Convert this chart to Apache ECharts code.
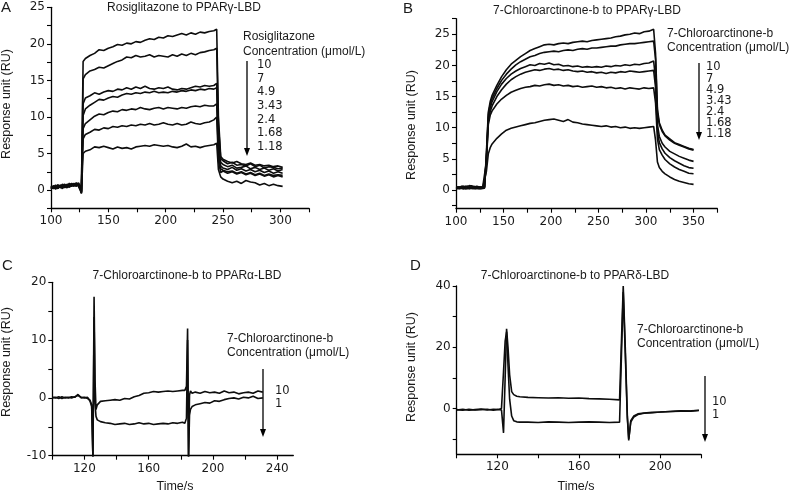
<!DOCTYPE html>
<html><head><meta charset="utf-8">
<script src="https://cdn.jsdelivr.net/npm/echarts@6/dist/echarts.min.js"></script>
<style>html,body{margin:0;padding:0;background:#fff}#c{width:791px;height:494px}</style>
</head><body><div id="c"></div><script>
// ---------- Panel A: Rosiglitazone to PPARγ-LBD ----------
const timeA = [100,102,104,106,108,110,112,114,116,118,120,122,124,125.5,
  126.5,128,
  130,134,138,142,146,150,154,158,162,166,170,174,178,182,186,190,194,198,202,206,210,214,218,222,226,230,234,238,242,
  244.5,246,248,
  250,254,258,262,266,270,274,278,282,286,290,294,298,302];
const concA = ['10','7','4.9','3.43','2.4','1.68','1.18'];
const a10 = [0.2,0.6,0.3,0.7,0.4,0.8,0.5,0.6,0.9,0.6,0.8,0.7,1.0,0.9, -0.3,17.6,
  18.0,18.4,18.7,19.2,19.1,19.4,19.6,19.9,19.8,20.1,20.0,20.3,20.2,20.5,20.7,20.6,20.9,20.8,21.1,21.0,21.2,21.4,21.2,21.5,21.3,21.6,21.5,21.7,21.8,
  22.0,10,4.6,
  4.2,3.9,3.7,3.9,3.6,3.5,3.7,3.4,3.5,3.3,3.4,3.2,3.3,3.1];
const a7 = [0.4,0.2,0.7,0.3,0.6,0.5,0.8,0.4,0.7,0.9,0.6,1.0,0.7,0.6, -0.2,15.2,
  15.8,16.3,16.5,16.8,16.7,17.0,17.3,17.6,17.8,18.2,18.1,18.4,18.2,18.3,18.5,18.2,18.4,18.3,18.2,18.5,18.3,18.6,18.4,18.7,18.5,18.8,18.9,19.1,19.2,
  19.4,9,4.3,
  4.0,3.6,3.8,3.4,3.5,3.3,3.6,3.2,3.4,3.0,3.2,3.1,2.9,3.0];
const a49 = [0.3,0.5,0.1,0.6,0.4,0.7,0.3,0.8,0.5,0.7,0.9,0.6,0.8,0.5, -0.5,11.8,
  12.6,12.9,13.3,13.1,13.4,13.6,13.5,13.8,13.7,14.0,13.8,14.1,13.9,14.2,13.9,13.8,14.0,13.9,14.1,13.8,13.7,13.9,13.8,14.0,14.2,14.1,14.3,14.2,14.3,
  14.6,7,3.8,
  3.5,3.2,3.4,3.0,3.1,3.3,2.9,3.1,2.8,3.0,2.7,2.9,2.6,2.8];
const a343 = [0.5,0.3,0.6,0.2,0.7,0.5,0.4,0.7,0.6,0.8,0.5,0.9,0.6,0.7, -0.3,10.2,
  11.1,11.6,12.0,12.4,12.3,12.6,12.8,12.7,13.0,13.2,13.1,13.3,13.2,13.4,13.3,13.5,13.3,13.4,13.3,13.5,13.4,13.6,13.5,13.7,13.6,13.8,13.7,13.9,13.8,
  14.0,6,3.3,
  3.0,2.8,3.1,2.7,2.9,2.6,2.8,2.5,2.7,2.4,2.6,2.3,2.5,2.3];
const a24 = [0.1,0.5,0.4,0.2,0.6,0.3,0.7,0.5,0.4,0.8,0.7,0.5,0.9,0.6, -0.4,8.4,
  9.1,9.6,10.1,10.4,10.3,10.6,10.8,10.7,11.0,10.9,11.1,11.0,11.3,11.1,11.0,11.2,11.3,11.1,11.3,11.2,11.1,11.3,11.2,11.4,11.5,11.4,11.6,11.5,11.5,
  11.8,5,2.9,
  2.7,2.5,2.6,2.3,2.5,2.2,2.4,2.1,2.3,2.0,2.2,2.0,2.1,2.0];
const a168 = [0.6,0.2,0.4,0.7,0.3,0.6,0.5,0.3,0.7,0.5,0.8,0.6,0.7,0.8, -0.2,7.0,
  7.6,7.9,8.3,8.2,8.5,8.4,8.7,8.6,8.8,8.7,8.9,8.8,9.0,8.9,9.1,8.9,9.0,9.2,9.0,8.9,9.1,8.9,9.0,9.3,9.1,9.0,9.2,9.3,9.6,
  10.0,4,2.4,
  2.6,2.3,2.5,2.2,2.4,2.1,2.3,2.0,2.2,1.9,2.1,1.8,2.0,1.8];
const a118 = [0.3,0.4,0.6,0.4,0.5,0.2,0.6,0.7,0.4,0.6,0.7,0.8,0.5,0.6, -0.4,5.0,
  5.3,5.5,5.9,5.8,6.0,5.8,5.6,5.9,5.7,5.8,5.6,5.9,6.0,6.1,6.0,6.2,6.1,6.0,6.1,5.9,5.8,6.0,6.3,5.9,6.0,5.8,6.0,6.1,6.2,
  6.4,2.8,1.8,
  1.5,1.2,1.0,1.2,0.9,1.3,1.1,1.0,0.7,0.9,0.6,0.8,0.6,0.5];

// ---------- Panel B: 7-Chloroarctinone-b to PPARγ-LBD ----------
const timeB = [100,102,104,106,108,110,112,114,116,118,120,122,124,126,128,130,
  132,134,136,
  138,143,148,153,158,163,168,173,178,183,188,193,198,203,208,213,218,223,228,233,238,243,248,253,258,263,268,273,278,283,288,293,298,303,308,
  310,312,314,317,320,325,330,335,340,345,350];
const concB = ['10','7','4.9','3.43','2.4','1.68','1.18'];
const b1 = [0.3,0.5,0.2,0.6,0.4,0.5,0.3,0.7,0.4,0.6,0.3,0.5,0.4,0.3,0.5,0.4,
  6,12.5,14.2,
  15.2,16.8,18.2,19.3,20.2,20.8,21.4,21.9,22.4,22.7,23.0,23.3,23.4,23.3,23.5,23.6,23.5,23.7,23.8,23.9,23.8,24.0,24.1,24.2,24.3,24.4,24.6,24.7,24.9,25.0,25.2,25.1,25.4,25.5,25.8,
  22,13,10.8,9.6,8.8,8.2,7.6,7.3,7.0,6.7,6.5];
const b2 = [0.4,0.2,0.5,0.3,0.6,0.2,0.5,0.4,0.6,0.3,0.5,0.2,0.4,0.5,0.3,0.4,
  5.5,12,13.8,
  14.7,16.3,17.6,18.6,19.4,20.1,20.6,21.0,21.4,21.6,21.9,22.1,22.2,22.3,22.2,22.4,22.5,22.4,22.6,22.7,22.6,22.8,22.8,22.9,23.0,23.1,23.1,23.3,23.4,23.5,23.5,23.6,23.7,23.8,23.9,
  21,12.5,10.5,9.4,8.7,8.0,7.5,7.2,6.9,6.6,6.4];
const b3 = [0.2,0.4,0.3,0.5,0.2,0.6,0.4,0.3,0.5,0.2,0.4,0.6,0.3,0.4,0.2,0.5,
  5,11.5,13.2,
  14.2,15.8,17.0,17.9,18.6,19.1,19.5,19.8,20.1,20.0,20.3,20.2,20.4,20.1,20.2,19.9,20.0,19.8,19.9,19.7,19.8,19.7,19.8,19.7,19.9,19.8,20.0,19.9,20.1,20.0,20.2,20.1,20.3,20.4,20.7,
  18,10.5,8.6,7.5,6.9,6.2,5.8,5.4,5.1,4.8,4.6];
const b4 = [0.5,0.3,0.4,0.2,0.5,0.4,0.6,0.2,0.3,0.5,0.4,0.3,0.6,0.2,0.4,0.3,
  4.8,11,12.6,
  13.5,15.0,16.1,17.0,17.7,18.2,18.6,18.9,19.1,19.3,19.2,19.4,19.5,19.3,19.4,19.2,19.3,19.1,19.0,19.1,18.9,19.0,18.8,18.9,18.7,18.9,18.8,19.0,18.9,19.1,19.0,18.9,19.0,19.1,19.2,
  16.5,9.5,7.6,6.6,5.9,5.2,4.7,4.3,3.9,3.6,3.5];
const b5 = [0.3,0.6,0.4,0.3,0.2,0.5,0.3,0.4,0.7,0.4,0.2,0.4,0.5,0.3,0.4,0.5,
  4.5,10.5,12.0,
  12.7,13.8,14.6,15.2,15.7,16.0,16.3,16.5,16.6,16.8,16.7,16.9,17.0,16.8,16.9,16.7,16.8,16.6,16.7,16.5,16.6,16.7,16.5,16.6,16.4,16.5,16.3,16.4,16.2,16.4,16.3,16.2,16.4,16.3,16.4,
  14,8.2,6.5,5.6,4.9,4.2,3.7,3.3,3.0,2.7,2.6];
const b6 = [0.4,0.3,0.5,0.4,0.3,0.4,0.2,0.5,0.3,0.4,0.5,0.3,0.2,0.4,0.3,0.4,
  3,5.8,6.8,
  7.4,8.3,9.0,9.6,9.9,10.1,10.3,10.5,10.7,10.8,11.0,11.2,11.3,11.4,11.2,11.0,11.3,10.9,10.8,10.6,10.5,10.4,10.3,10.2,10.3,10.1,10.2,10.0,10.1,9.9,10.0,9.9,10.0,10.1,10.2,
  8,4.5,3.6,3.0,2.6,2.1,1.7,1.4,1.2,1.0,0.9];

// ---------- Panel C: 7-Chloroarctinone-b to PPARα-LBD ----------
const timeC = [100,102,104,106,108,110,112,114,116,118,120,122,
  123.5,124.5,125.3,126,126.6,127.2,128,
  130,133,136,139,142,145,148,151,154,157,160,163,166,169,172,175,178,181,
  182.5,183.5,184.2,184.8,185.4,186,187,
  189,192,195,198,201,204,207,210,213,216,219,222,225,228,231];
const concC = ['10','1'];
const c10 = [0.1,0.0,0.2,-0.1,0.1,0.0,0.2,0.1,0.6,0.0,0.1,-0.1,
  -0.4,-1.2,-10.5,17.5,3,-2,-1.2,
  -0.6,-0.5,-0.4,-0.3,-0.4,-0.1,-0.2,0.2,0.4,0.8,0.9,1.1,1.0,1.1,1.2,1.1,1.2,1.3,
  1.3,2,12,-10.5,0.5,1.2,0.8,
  1.0,0.8,1.1,0.9,1.0,0.8,1.2,0.9,1.0,0.7,0.9,1.0,0.8,1.2,1.0];
const c1 = [0.0,0.1,-0.1,0.2,0.0,0.1,0.0,0.2,0.4,0.1,0.0,0.1,
  -0.6,-1.5,-10.5,14,-1,-3.2,-3.8,
  -4.1,-4.3,-4.4,-4.6,-4.5,-4.4,-4.6,-4.5,-4.3,-4.5,-4.4,-4.6,-4.5,-4.4,-4.5,-4.3,-4.4,-4.2,
  -4.4,-3.5,10,-10.5,-3,-2.0,-1.5,
  -1.2,-1.0,-0.8,-0.9,-0.5,-0.6,-0.3,-0.1,0.0,-0.2,0.1,0.0,0.3,-0.1,0.0];

// ---------- Panel D: 7-Chloroarctinone-b to PPARδ-LBD ----------
const timeD = [100,103,106,109,112,115,118,121,
  122,123,123.8,124.5,125.2,126,127,128,129.5,131,
  135,140,145,150,155,160,165,170,175,180,
  180.8,181.8,182.8,183.8,184.5,185.5,187,189,192,196,200,205,210,215,219];
const concD = ['10','1'];
const d10 = [-0.5,-0.3,-0.6,-0.4,-0.2,-0.5,-0.3,-0.4,
  -0.5,-8,10,26,20,11,5.5,4.5,4.0,3.8,
  3.6,3.5,3.4,3.5,3.3,3.4,3.2,3.1,3.0,2.8,
  2.9,40,20,-2,-10.5,-4,-2.5,-1.8,-1.5,-1.3,-1.2,-1.0,-0.8,-0.9,-0.6];
const d1 = [-0.4,-0.6,-0.3,-0.5,-0.4,-0.3,-0.6,-0.3,
  0,12,22,25,14,3,-2.5,-4,-4.4,-4.5,
  -4.5,-4.6,-4.4,-4.5,-4.6,-4.5,-4.4,-4.5,-4.6,-4.5,
  -4.3,38,18,-3,-10,-4.5,-2.8,-2.0,-1.6,-1.4,-1.2,-1.0,-0.9,-0.8,-0.7];

// ---------- Axis ticks / labels ----------
const xTicksA = [100,125,150,175,200,225,250,275,300,325];
const xLabelsA = [100,150,200,250,300];
const yTicksA = [-2.5,0,2.5,5,7.5,10,12.5,15,17.5,20,22.5,25];
const yLabelsA = [0,5,10,15,20,25];
const xTicksB = [100,125,150,175,200,225,250,275,300,325,350,375];
const xLabelsB = [100,150,200,250,300,350];
const yTicksB = [-2.5,0,2.5,5,7.5,10,12.5,15,17.5,20,22.5,25,27.5];
const yLabelsB = [0,5,10,15,20,25];
const xTicksC = [100,120,140,160,180,200,220,240];
const xLabelsC = [120,160,200,240];
const yTicksC = [-10,-5,0,5,10,15,20];
const yLabelsC = [-10,0,10,20];
const xTicksD = [100,120,140,160,180,200,220];
const xLabelsD = [120,160,200];
const yTicksD = [-10,0,10,20,30,40];
const yLabelsD = [0,20,40];

const NUMFONT = 'DejaVu Sans';
const TXTFONT = 'Liberation Sans';
const INK = '#1a1a1a';

function axis(type, gi, min, max, ticks, labels) {
  return {
    type: 'value', gridIndex: gi, min: min, max: max,
    splitLine: {show: false},
    axisLine: {onZero: false, lineStyle: {color: '#000', width: 1.3}},
    axisTick: {customValues: ticks, length: 4, lineStyle: {color: '#000', width: 1.1}},
    axisLabel: {customValues: labels, color: INK, fontSize: 12, fontFamily: NUMFONT, margin: type === 'x' ? 7 : 6}
  };
}
function pairs(t, v) { return t.map((x, i) => [x, v[i]]); }
function lines(gi, t, arrs) {
  return arrs.map(v => ({
    type: 'line', xAxisIndex: gi, yAxisIndex: gi, data: pairs(t, v),
    symbol: 'none', animation: false, clip: true,
    lineStyle: {color: '#0d0d0d', width: 1.6}
  }));
}

function txt(x, y, s, opt) {
  opt = opt || {};
  return {type: 'text', x: x, y: y, rotation: opt.rot || 0, z: 10,
    style: {text: s, font: (opt.size || 12) + 'px "' + (opt.family || TXTFONT) + '"', fill: INK,
      align: opt.align || 'left', verticalAlign: 'middle'}};
}
function arrow(x, y1, y2) {
  return [
    {type: 'line', z: 10, shape: {x1: x, y1: y1, x2: x, y2: y2 - 6}, style: {stroke: '#000', lineWidth: 1.3}},
    {type: 'polygon', z: 10, shape: {points: [[x - 3, y2 - 8], [x + 3, y2 - 8], [x, y2]]}, style: {fill: '#000'}}
  ];
}
function concList(x, y0, step, list) {
  return list.map((s, i) => txt(x, y0 + i * step, s, {size: 11.5, family: NUMFONT}));
}

const graphics = [].concat(
  [txt(1, 8, 'A', {size: 15}), txt(403, 9, 'B', {size: 15}), txt(2, 266, 'C', {size: 15}), txt(410, 266, 'D', {size: 15})],
  [txt(184, 8, 'Rosiglitazone to PPARγ-LBD', {align: 'center'}),
   txt(587, 11, '7-Chloroarctinone-b to PPARγ-LBD', {align: 'center'}),
   txt(187, 276, '7-Chloroarctinone-b to PPARα-LBD', {align: 'center'}),
   txt(575, 276, '7-Chloroarctinone-b to PPARδ-LBD', {align: 'center'})],
  [txt(7, 104, 'Response unit (RU)', {align: 'center', rot: Math.PI / 2, size: 12.5}),
   txt(412, 125, 'Response unit (RU)', {align: 'center', rot: Math.PI / 2, size: 12.5}),
   txt(7, 362, 'Response unit (RU)', {align: 'center', rot: Math.PI / 2, size: 12.5}),
   txt(412, 367, 'Response unit (RU)', {align: 'center', rot: Math.PI / 2, size: 12.5})],
  [txt(175, 487, 'Time/s', {align: 'center', size: 12.5}), txt(576, 487, 'Time/s', {align: 'center', size: 12.5})],
  // legend A
  [txt(243, 37, 'Rosiglitazone'), txt(243, 52, 'Concentration (μmol/L)')],
  concList(257, 65, 13.7, concA),
  arrow(247, 61, 156),
  // legend B
  [txt(667, 34, '7-Chloroarctinone-b'), txt(667, 48, 'Concentration (μmol/L)')],
  concList(706, 67.5, 11.1, concB),
  arrow(699, 63, 140),
  // legend C
  [txt(227, 339, '7-Chloroarctinone-b'), txt(227, 353, 'Concentration (μmol/L)')],
  concList(275, 391, 13.3, concC),
  arrow(263, 369, 437),
  // legend D
  [txt(637, 330, '7-Chloroarctinone-b'), txt(637, 344, 'Concentration (μmol/L)')],
  concList(712, 402, 13.3, concD),
  arrow(705, 376, 442)
);

const option = {
  backgroundColor: '#fff',
  animation: false,
  grid: [
    {left: 51, top: 7.3, width: 258, height: 201},
    {left: 456, top: 18.7, width: 261.3, height: 190},
    {left: 52.3, top: 282.3, width: 241, height: 173.4},
    {left: 456.7, top: 286, width: 244.3, height: 168.3}
  ],
  xAxis: [
    axis('x', 0, 100, 325, xTicksA, xLabelsA),
    axis('x', 1, 100, 375, xTicksB, xLabelsB),
    axis('x', 2, 100, 250, xTicksC, xLabelsC),
    axis('x', 3, 100, 220, xTicksD, xLabelsD)
  ],
  yAxis: [
    axis('y', 0, -2.5, 25, yTicksA, yLabelsA),
    axis('y', 1, -3, 27.5, yTicksB, yLabelsB),
    axis('y', 2, -10, 20, yTicksC, yLabelsC),
    axis('y', 3, -15, 40, yTicksD, yLabelsD)
  ],
  series: [].concat(
    lines(0, timeA, [a10, a7, a49, a343, a24, a168, a118]),
    lines(1, timeB, [b1, b2, b3, b4, b5, b6]),
    lines(2, timeC, [c10, c1]),
    lines(3, timeD, [d10, d1])
  ),
  graphic: graphics
};
const chart = echarts.init(document.getElementById('c'), null, {renderer: 'canvas'});
chart.setOption(option);
</script></body></html>
